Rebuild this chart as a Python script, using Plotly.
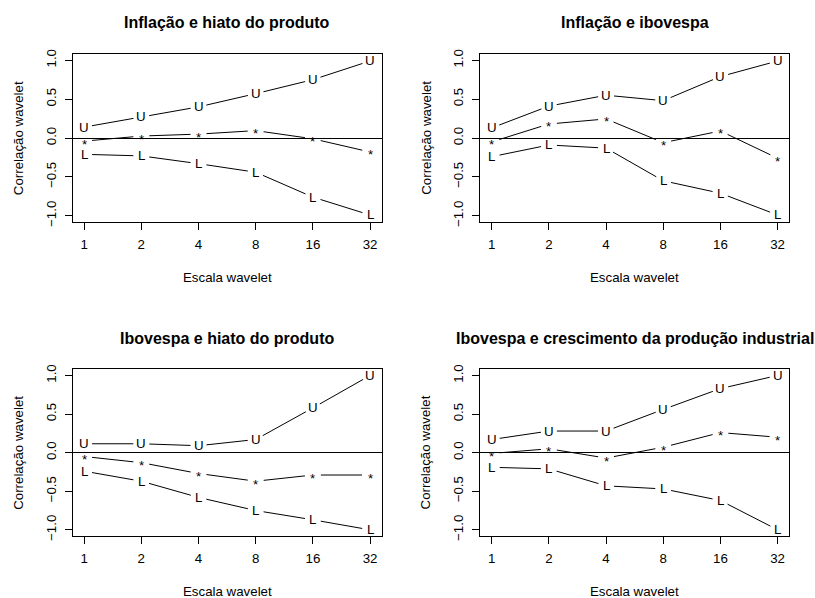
import numpy as np
import plotly.graph_objects as go

# ---------------- data ----------------
scales = [1, 2, 4, 8, 16, 32]
scale_labels = ["1", "2", "4", "8", "16", "32"]
y_ticks = [-1.0, -0.5, 0.0, 0.5, 1.0]

titles = [
    "Inflação e hiato do produto",
    "Inflação e ibovespa",
    "Ibovespa e hiato do produto",
    "Ibovespa e crescimento da produção industrial",
]

upper_1 = [0.14, 0.27, 0.40, 0.57, 0.75, 0.99]
corr_1 = [-0.04, 0.025, 0.05, 0.095, -0.01, -0.18]
lower_1 = [-0.21, -0.23, -0.33, -0.44, -0.76, -0.99]

upper_2 = [0.13, 0.41, 0.55, 0.48, 0.79, 0.99]
corr_2 = [-0.05, 0.18, 0.245, -0.06, 0.09, -0.26]
lower_2 = [-0.24, -0.09, -0.13, -0.55, -0.71, -0.99]

upper_3 = [0.115, 0.115, 0.09, 0.17, 0.58, 1.0]
corr_3 = [-0.05, -0.13, -0.27, -0.37, -0.29, -0.29]
lower_3 = [-0.24, -0.37, -0.58, -0.75, -0.87, -1.0]

upper_4 = [0.17, 0.28, 0.28, 0.56, 0.83, 1.0]
corr_4 = [-0.01, 0.05, -0.07, 0.07, 0.26, 0.20]
lower_4 = [-0.19, -0.21, -0.43, -0.47, -0.62, -1.0]

panels = [
    (upper_1, corr_1, lower_1),
    (upper_2, corr_2, lower_2),
    (upper_3, corr_3, lower_3),
    (upper_4, corr_4, lower_4),
]
point_labels = ["U", "*", "L"]

# ---------------- layout constants ----------------
W, H = 815, 598
FONT = "Liberation Sans, Arial, Helvetica, sans-serif"
boxes = [  # left, right, top, bottom (px)
    (72.7, 381.5, 54.0, 222.0),
    (480.3, 789.0, 54.0, 222.0),
    (72.7, 381.5, 369.3, 536.0),
    (480.3, 789.0, 369.3, 536.0),
]
XPAD = 0.2     # in log2 units (R 4% extension)
YR = 1.08
GAP = 8.0      # px gap around points (type = "b")
TXT = 13.3
STAR_SHIFT = -3.0
YLAB_OFF = 14.3  # px left of box for tick-label axis

fig = go.Figure()
layout = dict(
    template="none",
    width=W, height=H, autosize=False,
    margin=dict(l=0, r=0, t=0, b=0),
    paper_bgcolor="white", plot_bgcolor="white",
    showlegend=False,
    font=dict(family=FONT, size=TXT, color="black"),
)
annotations = []

log2x = np.log2(np.array(scales, dtype=float))

for k, (box, series) in enumerate(zip(boxes, panels)):
    n = k + 1
    x0, x1, top, bot = box
    xd = [x0 / W, x1 / W]
    yd = [1 - bot / H, 1 - top / H]
    sx = (x1 - x0) / (log2x[-1] - log2x[0] + 2 * XPAD)
    sy = (bot - top) / (2 * YR)

    xa = f"xaxis{n}" if n > 1 else "xaxis"
    ya = f"yaxis{n}" if n > 1 else "yaxis"
    xr = f"x{n}" if n > 1 else "x"
    yr = f"y{n}" if n > 1 else "y"
    lo = np.log10(scales[0]) - XPAD * np.log10(2)
    hi = np.log10(scales[-1]) + XPAD * np.log10(2)
    layout[xa] = dict(
        domain=xd, anchor=yr, type="log", range=[lo, hi],
        tickmode="array", tickvals=scales, ticktext=scale_labels,
        ticks="outside", ticklen=7, tickwidth=1, tickcolor="black",
        ticklabelstandoff=3,
        showline=True, mirror=True, linecolor="black", linewidth=1,
        showgrid=False, zeroline=False,
        tickfont=dict(family=FONT, size=TXT, color="black"),
    )
    layout[ya] = dict(
        domain=yd, anchor=xr, range=[-YR, YR],
        tickmode="array", tickvals=y_ticks, showticklabels=False,
        ticks="outside", ticklen=7, tickwidth=1, tickcolor="black",
        showline=True, mirror=True, linecolor="black", linewidth=1,
        showgrid=False, zeroline=True, zerolinecolor="black", zerolinewidth=1,
    )
    # free axis carrying the rotated tick labels
    m = 4 + n
    layout[f"yaxis{m}"] = dict(
        overlaying=yr, anchor="free", position=(x0 - YLAB_OFF) / W, side="left",
        range=[-YR, YR], tickmode="array", tickvals=y_ticks, tickformat=".1f",
        tickangle=-90, ticks="", showline=False, showgrid=False, zeroline=False,
        tickfont=dict(family=FONT, size=TXT, color="black"),
    )
    fig.add_trace(go.Scatter(x=[scales[0]], y=[0], mode="none", xaxis=xr,
                             yaxis=f"y{m}", hoverinfo="skip"))

    for vals, label in zip(series, point_labels):
        v = np.array(vals, dtype=float)
        X = log2x * sx
        Y = v * sy
        xs, ys = [], []
        for i in range(len(v) - 1):
            dx, dy = X[i + 1] - X[i], Y[i + 1] - Y[i]
            d = np.hypot(dx, dy)
            if d > 2 * GAP:
                ux, uy = dx / d, dy / d
                xs += [2 ** ((X[i] + GAP * ux) / sx),
                       2 ** ((X[i + 1] - GAP * ux) / sx), None]
                ys += [(Y[i] + GAP * uy) / sy,
                       (Y[i + 1] - GAP * uy) / sy, None]
        fig.add_trace(go.Scatter(
            x=xs, y=ys, mode="lines", xaxis=xr, yaxis=yr,
            line=dict(color="black", width=1), hoverinfo="skip",
        ))
        for xv, yv in zip(scales, vals):
            annotations.append(dict(
                text=label, xref=xr, yref=yr, x=np.log10(xv), y=yv,
                xanchor="center", yanchor="middle", showarrow=False,
                borderpad=0, yshift=STAR_SHIFT if label == "*" else 0,
                font=dict(family=FONT, size=TXT, color="black"),
            ))

    cx = (x0 + x1) / 2
    cy = (top + bot) / 2
    annotations.append(dict(
        text=f"<b>{titles[k]}</b>", xref="paper", yref="paper",
        x=cx / W, y=1 - (top - 31.2) / H, xanchor="center", yanchor="middle",
        showarrow=False, font=dict(family=FONT, size=16, color="black"),
    ))
    annotations.append(dict(
        text="Escala wavelet", xref="paper", yref="paper",
        x=cx / W, y=1 - (bot + 55.5) / H, xanchor="center", yanchor="middle",
        showarrow=False, font=dict(family=FONT, size=TXT, color="black"),
    ))
    annotations.append(dict(
        text="Correlação wavelet", xref="paper", yref="paper",
        x=(x0 - 54.5) / W, y=1 - cy / H, xanchor="center", yanchor="middle",
        textangle=-90, showarrow=False,
        font=dict(family=FONT, size=TXT, color="black"),
    ))

layout["annotations"] = annotations
fig.update_layout(**layout)
fig.write_html("out.html")
